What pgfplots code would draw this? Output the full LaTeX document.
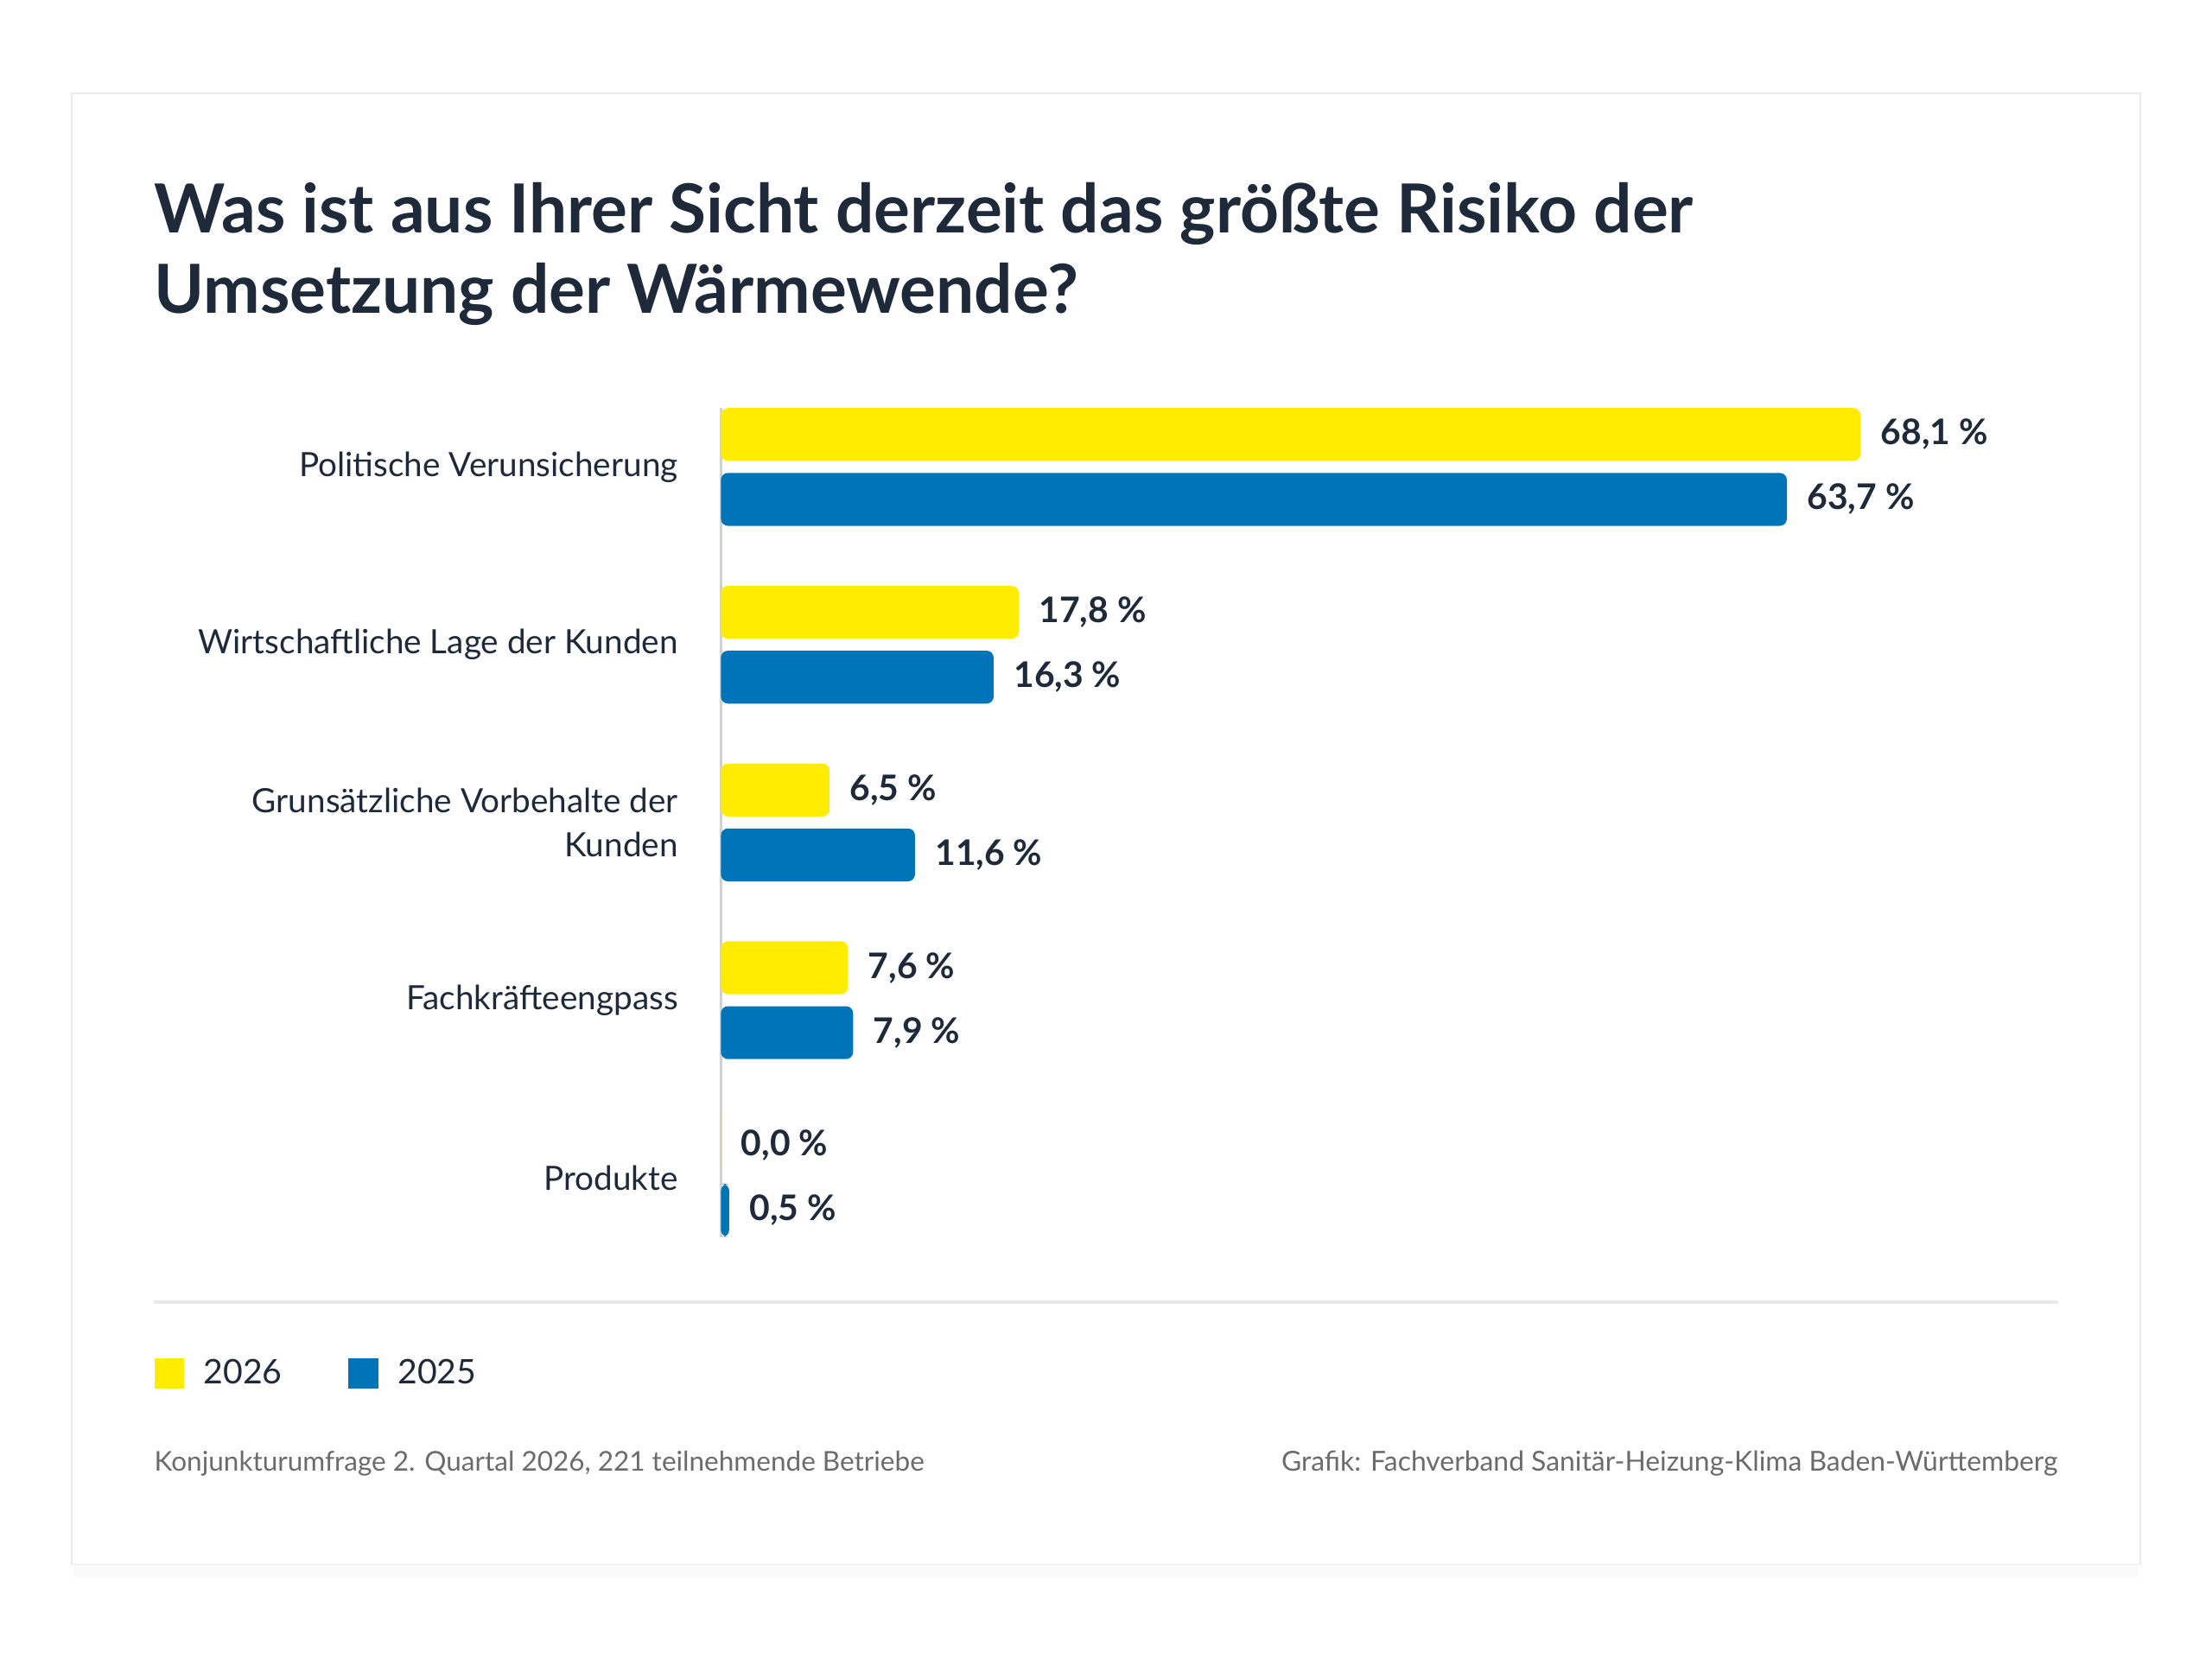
\documentclass[border=0pt]{standalone}
\usepackage{fontspec}
\setmainfont{Lato}
\usepackage{pgfplots}
\pgfplotsset{compat=1.18}
\definecolor{ylw}{HTML}{FFEC00}
\definecolor{blu}{HTML}{0074B8}
\definecolor{navy}{HTML}{1E2939}
\definecolor{grayt}{HTML}{6B6B6B}
\begin{document}
\begin{tikzpicture}
\path[use as bounding box, fill=white] (0,0) rectangle (784pt,-588pt);
\fill[black!2] (26pt,-554.5pt) rectangle (758pt,-559pt);
\draw[draw=black!8, line width=0.5pt, fill=white] (25.5pt,-33pt) rectangle (758.5pt,-554.5pt);
\node[anchor=base west, inner sep=0pt, font=\fontsize{24}{28}\selectfont\bfseries, text=navy] at (54.5pt,-82.5pt) {Was ist aus Ihrer Sicht derzeit das größte Risiko der};
\node[anchor=base west, inner sep=0pt, font=\fontsize{24}{28}\selectfont\bfseries, text=navy] at (54.5pt,-111pt) {Umsetzung der Wärmewende?};
\draw[black!9, line width=1pt] (54.5pt,-461.5pt) -- (729.5pt,-461.5pt);
\node[anchor=base west, inner sep=0pt, font=\fontsize{9.65}{11}\selectfont, text=grayt] at (54.5pt,-521.5pt) {Konjunkturumfrage 2. Quartal 2026, 221 teilnehmende Betriebe};
\node[anchor=base east, inner sep=0pt, font=\fontsize{9.75}{11}\selectfont, text=grayt] at (729.5pt,-521.5pt) {Grafik: Fachverband Sanitär-Heizung-Klima Baden-Württemberg};
\begin{axis}[
  at={(255.5pt,-438.5pt)}, anchor=south west,
  width=474.5pt, height=294pt, scale only axis,
  xmin=0, xmax=80, ymin=-0.3333, ymax=4.3333,
  axis y line*=left, axis x line=none,
  y axis line style={draw=black!18, line width=0.75pt},
  ytick={0,1,2,3,4},
  yticklabels={Produkte, Fachkräfteengpass, {Grunsätzliche Vorbehalte der\\Kunden}, Wirtschaftliche Lage der Kunden, Politische Verunsicherung},
  major tick length=0pt, ytick style={draw=none},
  yticklabel style={font=\fontsize{11.85}{15.5}\selectfont, text=navy, align=right, inner sep=0pt, xshift=-15pt},
  clip=false,
  legend style={at={(axis description cs:-0.4236,-0.1641)}, anchor=west, draw=none, fill=none, inner sep=0pt,
    font=\fontsize{12}{14}\selectfont, text=navy,
    /tikz/every odd column/.append style={column sep=7pt},
    /tikz/every even column/.append style={column sep=23.5pt},
    nodes={inner sep=0pt}},
  legend columns=2,
  nodes near coords, point meta=explicit symbolic,
  every node near coord/.append style={font=\fontsize{12.5}{14}\selectfont\bfseries, text=navy, anchor=west, inner sep=0pt, xshift=7pt},
]
\addplot[xbar, fill=ylw, draw=none, bar width=18.75pt, bar shift=11.5pt, rounded corners=2.5pt,
  every node near coord/.append style={yshift=11.5pt},
  legend image code/.code={\fill[ylw, sharp corners] (0pt,-5.25pt) rectangle (10.5pt,5.25pt);}]
  coordinates {(68.1,4) [68,1 \%] (17.8,3) [17,8 \%] (6.5,2) [6,5 \%] (7.6,1) [7,6 \%] (0.0,0) [0,0 \%]};
\addplot[xbar, fill=blu, draw=none, bar width=18.75pt, bar shift=-11.5pt, rounded corners=2.5pt,
  every node near coord/.append style={yshift=-11.5pt},
  legend image code/.code={\fill[blu, sharp corners] (0pt,-5.25pt) rectangle (10.5pt,5.25pt);}]
  coordinates {(63.7,4) [63,7 \%] (16.3,3) [16,3 \%] (11.6,2) [11,6 \%] (7.9,1) [7,9 \%] (0.5,0) [0,5 \%]};
\legend{2026, 2025}
\end{axis}
\end{tikzpicture}
\end{document}
